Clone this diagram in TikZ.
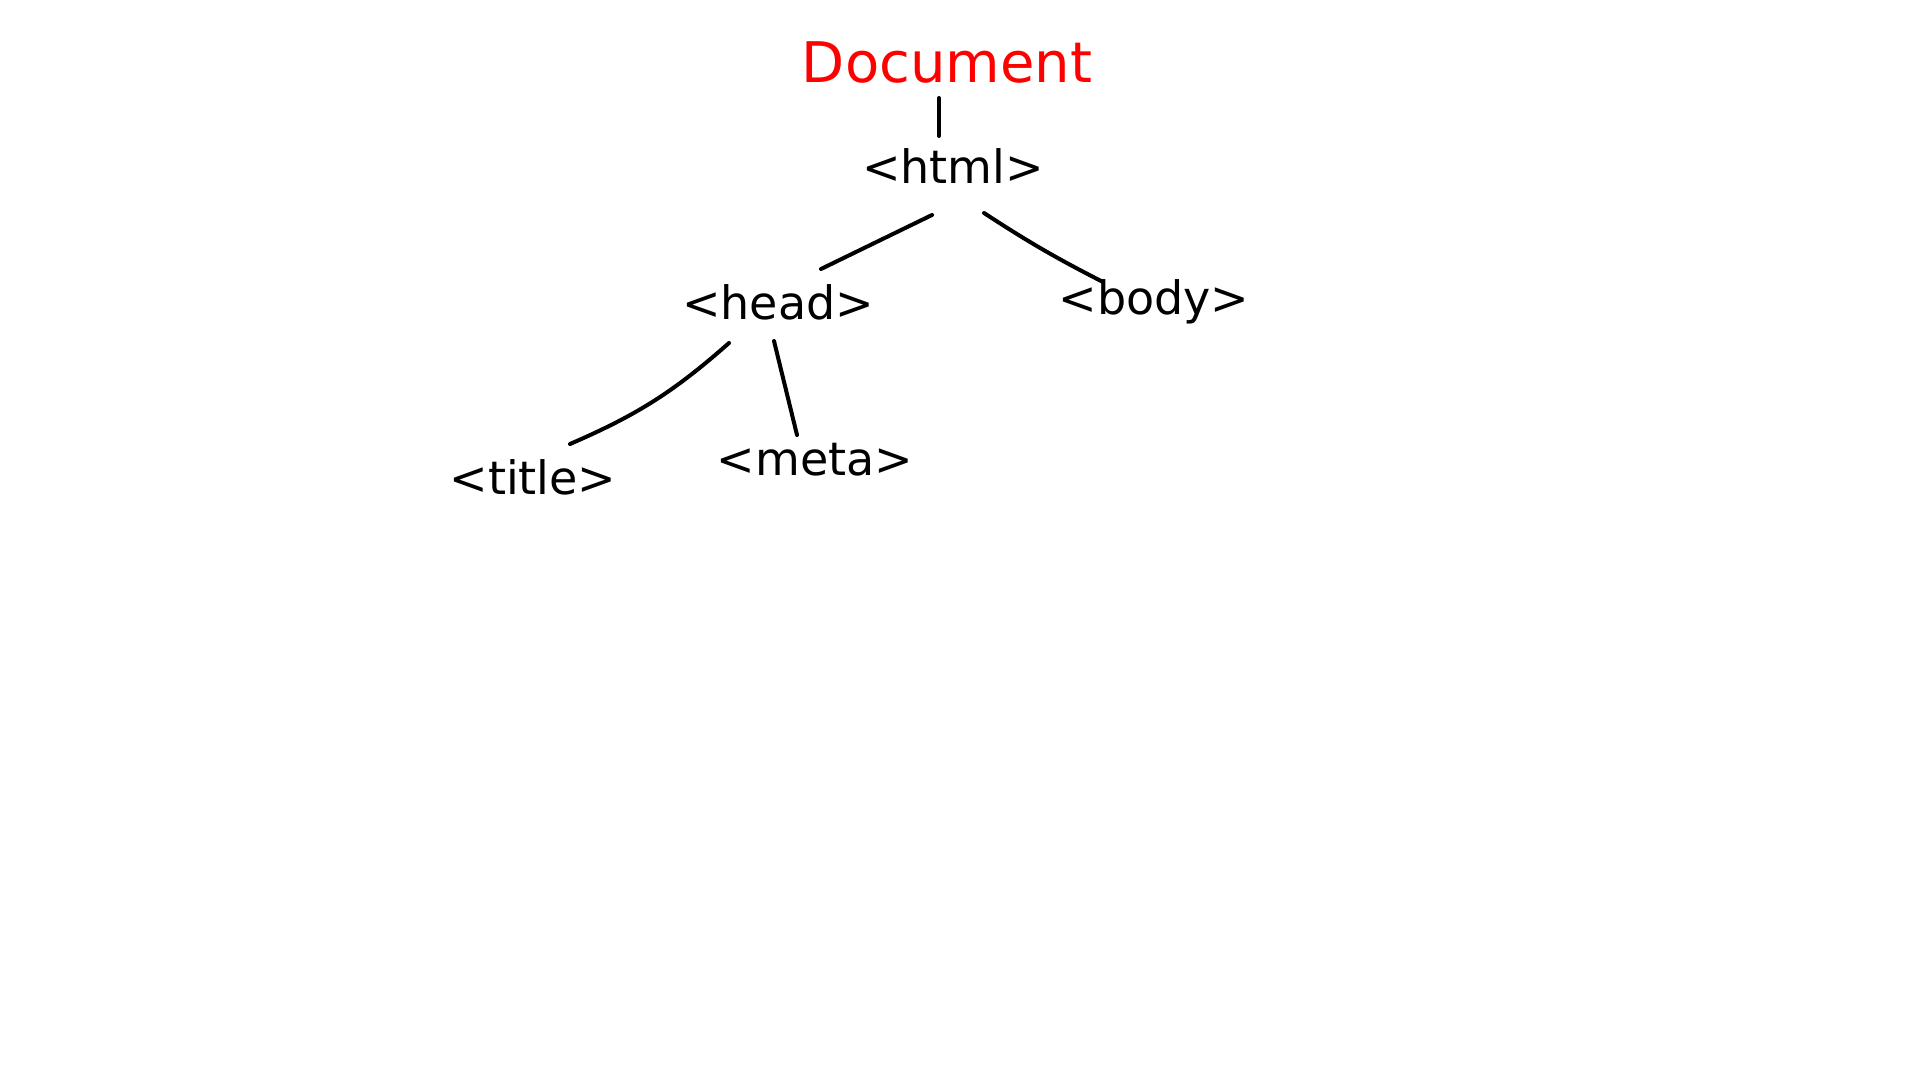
\documentclass[tikz,border=0pt]{standalone}
\usepackage{fontspec}
\setmainfont{DejaVu Sans}
\begin{document}
\begin{tikzpicture}[x=0.5pt,y=-0.5pt,
  tag/.style={inner sep=0pt,anchor=base,font=\fontsize{23}{26}\selectfont},
  edge/.style={line width=2pt,line cap=round}]
\useasboundingbox[fill=white] (0,0) rectangle (1920,1080);
\node[tag,text=red,font=\fontsize{28}{32}\selectfont] (doc) at (947,83) {Document};
\node[tag] (html) at (953,184) {<html>};
\node[tag] (head) at (778,320) {<head>};
\node[tag] (body) at (1154,315) {<body>};
\node[tag] (title) at (533,494) {<title>};
\node[tag] (meta) at (815,475) {<meta>};
\draw[edge] ([shift={(-8,15)}]doc.base) -- ([shift={(-14,-48)}]html.base);
\draw[edge] ([shift={(-21,31)}]html.base) -- ([shift={(43,-51)}]head.base);
\draw[edge] ([shift={(31,29)}]html.base) to[bend right=3] ([shift={(-51,-33)}]body.base);
\draw[edge] ([shift={(-49,23)}]head.base) to[bend left=9] ([shift={(37,-50)}]title.base);
\draw[edge] ([shift={(-4,21)}]head.base) -- ([shift={(-18,-40)}]meta.base);
\end{tikzpicture}
\end{document}
